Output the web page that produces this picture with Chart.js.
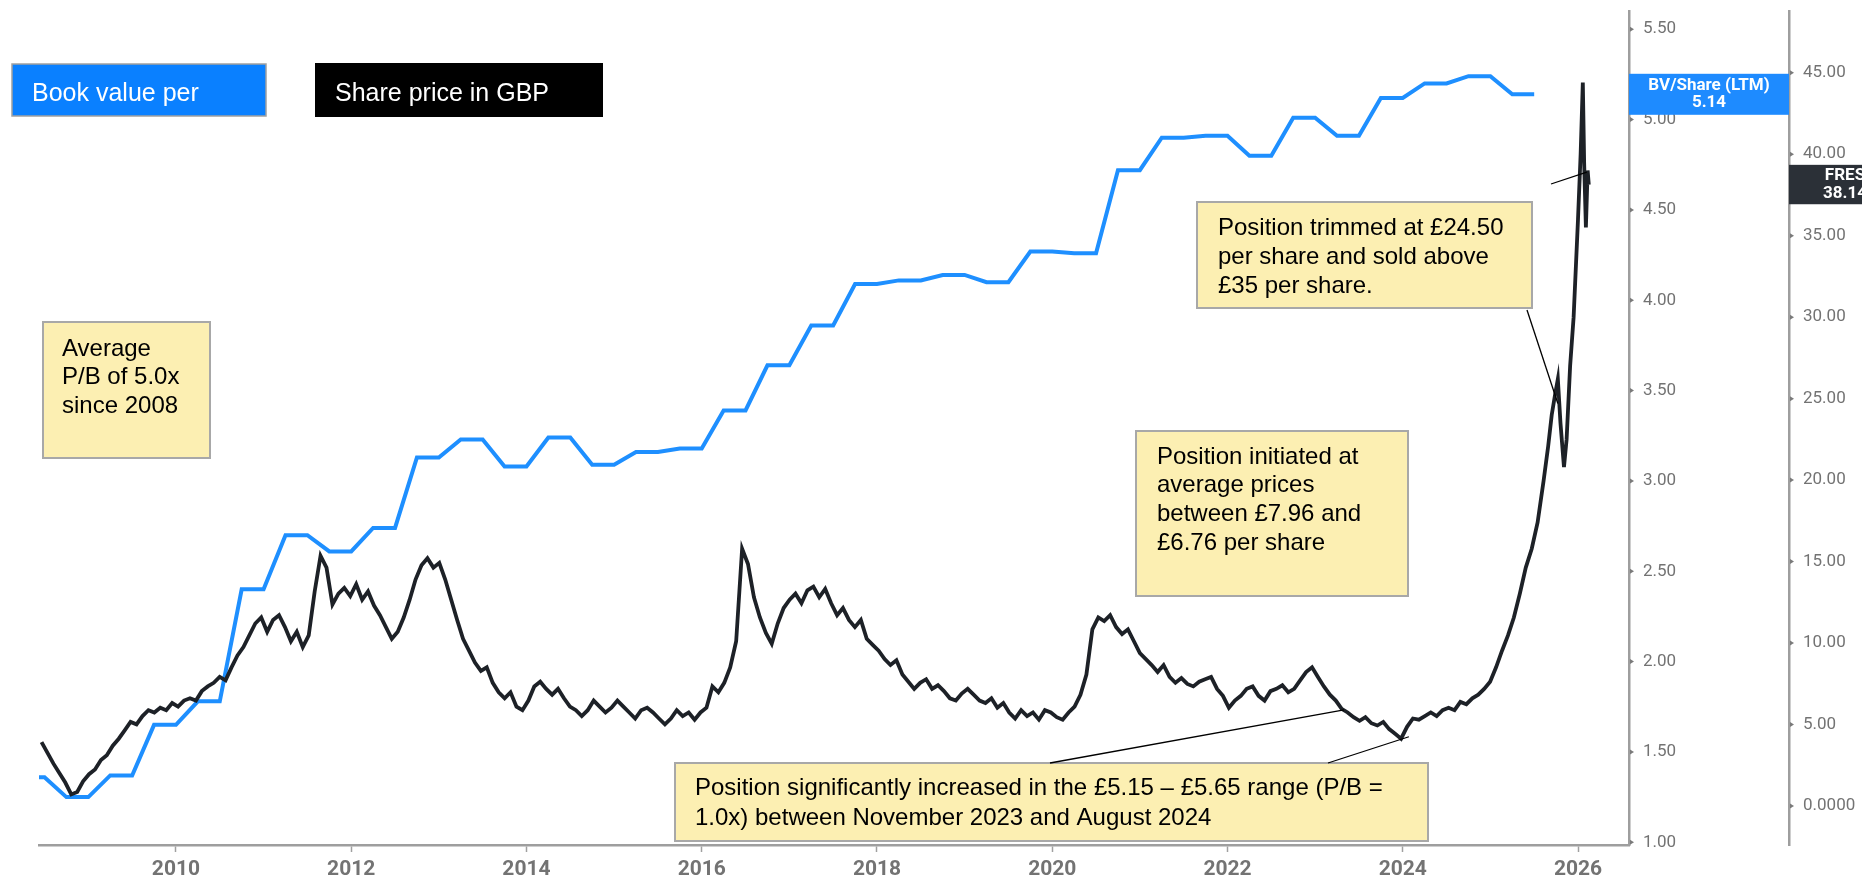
<!DOCTYPE html>
<html>
<head>
<meta charset="utf-8">
<title>Fresnillo: book value per share vs share price</title>
<script src="https://cdn.jsdelivr.net/npm/chart.js@4.4.1/dist/chart.umd.min.js"></script>
<style>
  html, body { margin: 0; padding: 0; background: #ffffff; overflow: hidden; }
  canvas { display: block; }
</style>
</head>
<body>
<canvas id="chart" width="1862" height="875"></canvas>
<script>
// ---- axis ticks ----
const yearTicks  = [2010, 2012, 2014, 2016, 2018, 2020, 2022, 2024, 2026];
const bvTicks    = [1.0, 1.5, 2.0, 2.5, 3.0, 3.5, 4.0, 4.5, 5.0, 5.5];
const priceTicks = [0, 5, 10, 15, 20, 25, 30, 35, 40, 45];

// ---- book value per share (LTM), quarterly ----
const bvYears = [
  2008.25, 2008.50, 2008.75, 2009.00, 2009.25, 2009.50, 2009.75, 2010.00,
  2010.25, 2010.50, 2010.75, 2011.00, 2011.25, 2011.50, 2011.75, 2012.00,
  2012.25, 2012.50, 2012.75, 2013.00, 2013.25, 2013.50, 2013.75, 2014.00,
  2014.25, 2014.50, 2014.75, 2015.00, 2015.25, 2015.50, 2015.75, 2016.00,
  2016.25, 2016.50, 2016.75, 2017.00, 2017.25, 2017.50, 2017.75, 2018.00,
  2018.25, 2018.50, 2018.75, 2019.00, 2019.25, 2019.50, 2019.75, 2020.00,
  2020.25, 2020.50, 2020.75, 2021.00, 2021.25, 2021.50, 2021.75, 2022.00,
  2022.25, 2022.50, 2022.75, 2023.00, 2023.25, 2023.50, 2023.75, 2024.00,
  2024.25, 2024.50, 2024.75, 2025.00, 2025.25, 2025.50
];
const bvValues = [
  1.36, 1.36, 1.25, 1.25, 1.37, 1.37, 1.65, 1.65,
  1.78, 1.78, 2.40, 2.40, 2.70, 2.70, 2.61, 2.61,
  2.74, 2.74, 3.13, 3.13, 3.23, 3.23, 3.08, 3.08,
  3.24, 3.24, 3.09, 3.09, 3.16, 3.16, 3.18, 3.18,
  3.39, 3.39, 3.64, 3.64, 3.86, 3.86, 4.09, 4.09,
  4.11, 4.11, 4.14, 4.14, 4.10, 4.10, 4.27, 4.27,
  4.26, 4.26, 4.72, 4.72, 4.90, 4.90, 4.91, 4.91,
  4.80, 4.80, 5.01, 5.01, 4.91, 4.91, 5.12, 5.12,
  5.20, 5.20, 5.24, 5.24, 5.14, 5.14
];

// ---- FRES share price in GBP ----
const priceYears = [
  2008.466, 2008.534, 2008.602, 2008.669, 2008.737, 2008.805, 2008.873, 2008.940,
  2009.008, 2009.076, 2009.144, 2009.211, 2009.279, 2009.347, 2009.415, 2009.482,
  2009.550, 2009.618, 2009.686, 2009.753, 2009.821, 2009.889, 2009.957, 2010.024,
  2010.092, 2010.160, 2010.228, 2010.295, 2010.363, 2010.431, 2010.499, 2010.566,
  2010.634, 2010.702, 2010.770, 2010.837, 2010.905, 2010.973, 2011.041, 2011.108,
  2011.176, 2011.244, 2011.312, 2011.379, 2011.447, 2011.515, 2011.583, 2011.650,
  2011.718, 2011.786, 2011.854, 2011.921, 2011.989, 2012.057, 2012.125, 2012.192,
  2012.260, 2012.328, 2012.396, 2012.463, 2012.531, 2012.599, 2012.667, 2012.734,
  2012.802, 2012.870, 2012.938, 2013.005, 2013.073, 2013.141, 2013.209, 2013.276,
  2013.344, 2013.412, 2013.480, 2013.547, 2013.615, 2013.683, 2013.751, 2013.818,
  2013.886, 2013.954, 2014.022, 2014.089, 2014.157, 2014.225, 2014.293, 2014.360,
  2014.428, 2014.496, 2014.564, 2014.631, 2014.699, 2014.767, 2014.835, 2014.902,
  2014.970, 2015.038, 2015.106, 2015.173, 2015.241, 2015.309, 2015.377, 2015.444,
  2015.512, 2015.580, 2015.648, 2015.715, 2015.783, 2015.851, 2015.919, 2015.986,
  2016.054, 2016.122, 2016.190, 2016.257, 2016.325, 2016.393, 2016.461, 2016.528,
  2016.596, 2016.664, 2016.732, 2016.799, 2016.867, 2016.935, 2017.003, 2017.070,
  2017.138, 2017.206, 2017.274, 2017.341, 2017.409, 2017.477, 2017.545, 2017.612,
  2017.680, 2017.748, 2017.816, 2017.883, 2017.951, 2018.019, 2018.087, 2018.154,
  2018.222, 2018.290, 2018.358, 2018.425, 2018.493, 2018.561, 2018.629, 2018.696,
  2018.764, 2018.832, 2018.900, 2018.967, 2019.035, 2019.103, 2019.171, 2019.238,
  2019.306, 2019.374, 2019.442, 2019.509, 2019.577, 2019.645, 2019.713, 2019.780,
  2019.848, 2019.916, 2019.984, 2020.051, 2020.119, 2020.187, 2020.255, 2020.322,
  2020.390, 2020.458, 2020.526, 2020.593, 2020.661, 2020.729, 2020.797, 2020.864,
  2020.932, 2021.000, 2021.068, 2021.135, 2021.203, 2021.271, 2021.339, 2021.406,
  2021.474, 2021.542, 2021.610, 2021.677, 2021.745, 2021.813, 2021.881, 2021.948,
  2022.016, 2022.084, 2022.152, 2022.219, 2022.287, 2022.355, 2022.423, 2022.490,
  2022.558, 2022.626, 2022.694, 2022.761, 2022.829, 2022.897, 2022.965, 2023.032,
  2023.100, 2023.168, 2023.236, 2023.303, 2023.371, 2023.439, 2023.507, 2023.574,
  2023.642, 2023.710, 2023.778, 2023.845, 2023.913, 2023.981, 2024.049, 2024.116,
  2024.184, 2024.252, 2024.320, 2024.387, 2024.455, 2024.523, 2024.591, 2024.658,
  2024.726, 2024.794, 2024.862, 2024.929, 2024.997, 2025.065, 2025.133, 2025.201,
  2025.268, 2025.336, 2025.404, 2025.472, 2025.539, 2025.607,
  2025.660, 2025.700, 2025.740, 2025.770, 2025.800, 2025.840, 2025.870, 2025.910,
  2025.950, 2026.000, 2026.030, 2026.055, 2026.070, 2026.090, 2026.110, 2026.123
];
const priceValues = [
  3.92, 3.26, 2.60, 2.02, 1.44, 0.71, 0.86, 1.51,
  1.95, 2.24, 2.82, 3.11, 3.70, 4.13, 4.64, 5.16,
  5.01, 5.52, 5.88, 5.74, 6.03, 5.88, 6.32, 6.10,
  6.47, 6.61, 6.47, 7.05, 7.34, 7.56, 7.92, 7.71,
  8.51, 9.24, 9.75, 10.47, 11.20, 11.57, 10.69, 11.42,
  11.71, 10.98, 10.11, 10.69, 9.75, 10.47, 13.17, 15.36,
  14.63, 12.37, 13.03, 13.39, 12.88, 13.61, 12.66, 13.17,
  12.30, 11.71, 10.98, 10.26, 10.69, 11.57, 12.66, 13.90,
  14.77, 15.21, 14.63, 14.92, 13.90, 12.66, 11.42, 10.26,
  9.53, 8.80, 8.29, 8.51, 7.56, 6.98, 6.61, 6.98,
  6.10, 5.88, 6.47, 7.34, 7.63, 7.19, 6.83, 7.19,
  6.61, 6.10, 5.88, 5.52, 5.88, 6.47, 6.10, 5.74,
  6.03, 6.47, 6.10, 5.74, 5.37, 5.88, 6.03, 5.74,
  5.37, 5.01, 5.37, 5.88, 5.52, 5.74, 5.30, 5.74,
  6.03, 7.34, 6.98, 7.56, 8.51, 10.11, 15.79, 14.85,
  12.81, 11.57, 10.62, 9.96, 11.20, 12.15, 12.66, 13.03,
  12.44, 13.24, 13.46, 12.81, 13.32, 12.44, 11.71, 12.15,
  11.42, 10.98, 11.42, 10.26, 9.89, 9.53, 9.02, 8.65,
  8.94, 8.07, 7.63, 7.19, 7.56, 7.78, 7.19, 7.41,
  7.05, 6.61, 6.47, 6.90, 7.19, 6.83, 6.47, 6.32,
  6.61, 6.03, 6.32, 5.74, 5.37, 5.88, 5.52, 5.74,
  5.30, 5.88, 5.74, 5.45, 5.30, 5.74, 6.10, 6.83,
  8.07, 10.84, 11.57, 11.35, 11.71, 10.98, 10.55, 10.84,
  10.11, 9.38, 9.02, 8.65, 8.22, 8.65, 7.92, 7.56,
  7.85, 7.49, 7.34, 7.63, 7.78, 7.92, 7.19, 6.76,
  6.03, 6.47, 6.76, 7.19, 7.34, 6.76, 6.47, 7.05,
  7.19, 7.41, 6.98, 7.19, 7.71, 8.22, 8.51, 7.92,
  7.34, 6.83, 6.47, 5.96, 5.74, 5.45, 5.23, 5.45,
  5.08, 4.94, 5.16, 4.72, 4.43, 4.13, 4.86, 5.37,
  5.30, 5.52, 5.74, 5.52, 5.88, 6.03, 5.88, 6.39,
  6.25, 6.61, 6.83, 7.19, 7.63, 8.51, 9.53, 10.47,
  11.57, 13.03, 14.63, 15.79, 17.40, 19.95,
  22.10, 24.00, 25.30, 26.20, 23.50, 20.80, 22.50, 27.00,
  30.00, 36.00, 40.00, 44.40, 39.50, 35.50, 39.00, 38.14
];

// ---- callouts ----
const legendBook  = 'Book value per';
const legendPrice = 'Share price in GBP';
const noteAverage   = ['Average', 'P/B of 5.0x', 'since 2008'];
const noteTrimmed   = ['Position trimmed at \u00A324.50', 'per share and sold above', '\u00A335 per share.'];
const noteInitiated = ['Position initiated at', 'average prices', 'between \u00A37.96 and', '\u00A36.76 per share'];
const noteIncreased = ['Position significantly increased in the \u00A35.15 \u2013 \u00A35.65 range (P/B =',
                       '1.0x) between November 2023 and August 2024'];
// leader-line targets on the price series: [year, price]
const trimTargets     = [[2025.77, 24.7], [2026.10, 38.9]];
const increaseTargets = [[2023.33, 5.9], [2024.07, 4.25]];

const GREY_AXIS = '#9e9e9e';
const GREY_TEXT = '#737373';
const NOTE_FILL = '#fcefb2';
const NOTE_EDGE = '#a8a8a8';
const NOTE_FONT = '24px "Liberation Sans", Arial, sans-serif';

function noteBox(ctx, x0, y0, x1, y1, lines, tx, firstBase, lineGap) {
  ctx.fillStyle = NOTE_FILL;
  ctx.fillRect(x0, y0, x1 - x0, y1 - y0);
  ctx.strokeStyle = NOTE_EDGE;
  ctx.lineWidth = 2;
  ctx.strokeRect(x0, y0, x1 - x0, y1 - y0);
  ctx.fillStyle = '#000000';
  ctx.font = NOTE_FONT;
  ctx.textAlign = 'left';
  ctx.textBaseline = 'alphabetic';
  lines.forEach((t, i) => ctx.fillText(t, tx, firstBase + i * lineGap));
}

function leader(ctx, chart, fromX, fromY, target) {
  const px = chart.scales.x.getPixelForValue(target[0]);
  const py = chart.scales.yPrice.getPixelForValue(target[1]);
  ctx.strokeStyle = '#000000';
  ctx.lineWidth = 1.3;
  ctx.beginPath();
  ctx.moveTo(fromX, fromY);
  ctx.lineTo(px, py);
  ctx.stroke();
}

const overlay = {
  id: 'overlay',
  afterDraw(chart) {
    const ctx = chart.ctx;
    const yb = chart.scales.yBV, yp = chart.scales.yPrice;
    ctx.save();

    // small arrow markers on both value axes
    ctx.fillStyle = '#7a7a7a';
    [[yb, bvTicks], [yp, priceTicks]].forEach(([s, list]) => {
      list.forEach(v => {
        const py = s.getPixelForValue(v);
        ctx.beginPath();
        ctx.moveTo(s.left + 1, py - 2.5);
        ctx.lineTo(s.left + 5, py);
        ctx.lineTo(s.left + 1, py + 2.5);
        ctx.closePath();
        ctx.fill();
      });
    });

    // last-value tags on the axes
    const lastBV = bvValues[bvValues.length - 1];
    const bvY = yb.getPixelForValue(lastBV);
    ctx.fillStyle = '#1e8bff';
    ctx.fillRect(yb.left, bvY - 20.5, yp.left - yb.left, 41);
    ctx.fillStyle = '#ffffff';
    ctx.font = 'bold 17px Roboto, sans-serif';
    ctx.textAlign = 'center';
    ctx.textBaseline = 'middle';
    const bvMid = (yb.left + yp.left) / 2;
    ctx.fillText('BV/Share (LTM)', bvMid, bvY - 8.5);
    ctx.fillText(lastBV.toFixed(2), bvMid, bvY + 8.5);

    const lastPrice = priceValues[priceValues.length - 1];
    const pY = yp.getPixelForValue(lastPrice);
    ctx.fillStyle = '#2b3037';
    ctx.fillRect(yp.left, pY - 19.7, chart.width - yp.left, 39.4);
    ctx.fillStyle = '#ffffff';
    ctx.fillText('FRES', yp.left + 56, pY - 9);
    ctx.fillText(lastPrice.toFixed(2), yp.left + 56, pY + 9);

    // legend keys
    ctx.fillStyle = '#0a80ff';
    ctx.fillRect(12, 64, 254, 52);
    ctx.strokeStyle = '#a0a0a0';
    ctx.lineWidth = 1.5;
    ctx.strokeRect(12, 64, 254, 52);
    ctx.fillStyle = '#000000';
    ctx.fillRect(315, 63, 288, 54);
    ctx.fillStyle = '#ffffff';
    ctx.font = '25px "Liberation Sans", Arial, sans-serif';
    ctx.textAlign = 'left';
    ctx.textBaseline = 'alphabetic';
    ctx.fillText(legendBook, 32, 101);
    ctx.fillText(legendPrice, 335, 101);

    // callouts
    noteBox(ctx, 43, 322, 210, 458, noteAverage, 62, 356, 28.4);
    noteBox(ctx, 1197, 202, 1532, 308, noteTrimmed, 1218, 234.5, 29);
    noteBox(ctx, 1136, 431, 1408, 596, noteInitiated, 1157, 463.5, 28.9);
    noteBox(ctx, 675, 763, 1428, 841, noteIncreased, 695, 795, 29.5);

    leader(ctx, chart, 1527, 310, trimTargets[0]);
    leader(ctx, chart, 1551, 184, trimTargets[1]);
    leader(ctx, chart, 1050, 763, increaseTargets[0]);
    leader(ctx, chart, 1328, 763, increaseTargets[1]);

    ctx.restore();
  }
};

const toPoints = (xs, ys) => xs.map((x, i) => ({ x: x, y: ys[i] }));

// fixed axis footprints so the plot area sits where the design wants it
const fixWidth = w => s => { s.width = w; s.paddingTop = 0; s.paddingBottom = 0; };

new Chart(document.getElementById('chart'), {
  type: 'line',
  data: {
    datasets: [
      {
        label: 'Share price in GBP',
        data: toPoints(priceYears, priceValues),
        yAxisID: 'yPrice',
        borderColor: '#1d2127',
        borderWidth: 3.8,
        pointRadius: 0,
        tension: 0,
        order: 0
      },
      {
        label: 'Book value per share',
        data: toPoints(bvYears, bvValues),
        yAxisID: 'yBV',
        borderColor: '#1e8fff',
        borderWidth: 4,
        pointRadius: 0,
        tension: 0,
        order: 1
      }
    ]
  },
  options: {
    responsive: false,
    animation: false,
    events: [],
    layout: { padding: { left: 39, top: 11, right: 0, bottom: 0 } },
    plugins: { legend: { display: false }, tooltip: { enabled: false }, title: { display: false } },
    scales: {
      x: {
        type: 'linear',
        position: 'bottom',
        min: 2008.437,
        max: 2026.582,
        afterBuildTicks: s => { s.ticks = yearTicks.map(v => ({ value: v })); },
        afterFit: s => { s.height = 30; s.paddingLeft = 0; s.paddingRight = 0; },
        ticks: {
          autoSkip: false,
          maxRotation: 0,
          padding: 5,
          color: GREY_TEXT,
          font: { family: 'Roboto', size: 21, weight: 'bold' },
          callback: v => String(v)
        },
        grid: { display: true, drawOnChartArea: false, drawTicks: true, tickLength: 7, tickColor: '#a0a0a0', tickWidth: 1.5 },
        border: { display: true, color: GREY_AXIS, width: 2.5 }
      },
      yBV: {
        type: 'linear',
        position: 'right',
        weight: 0,
        min: 0.985,
        max: 5.601,
        afterBuildTicks: s => { s.ticks = bvTicks.map(v => ({ value: v })); },
        afterFit: fixWidth(160),
        ticks: {
          autoSkip: false,
          padding: 14,
          color: GREY_TEXT,
          font: { family: 'Roboto', size: 17 },
          callback: v => Number(v).toFixed(2)
        },
        grid: { display: false, drawTicks: false },
        border: { display: true, color: GREY_AXIS, width: 2.5 }
      },
      yPrice: {
        type: 'linear',
        position: 'right',
        weight: 1,
        min: -2.393,
        max: 48.79,
        afterBuildTicks: s => { s.ticks = priceTicks.map(v => ({ value: v })); },
        afterFit: fixWidth(73),
        ticks: {
          autoSkip: false,
          padding: 14,
          color: GREY_TEXT,
          font: { family: 'Roboto', size: 17 },
          callback: v => (v === 0 ? '0.0000' : Number(v).toFixed(2))
        },
        grid: { display: false, drawTicks: false },
        border: { display: true, color: GREY_AXIS, width: 2.5 }
      }
    }
  },
  plugins: [overlay]
});
</script>
</body>
</html>
